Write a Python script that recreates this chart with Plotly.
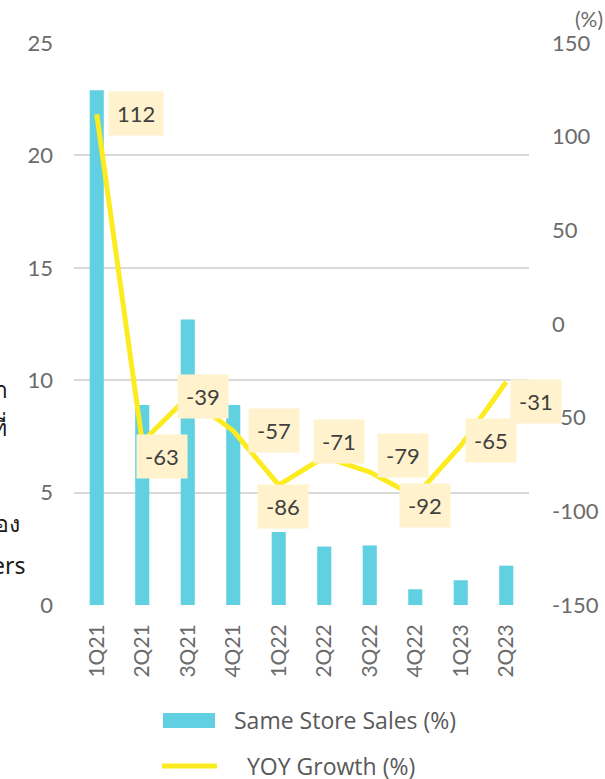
import plotly.graph_objects as go

quarters = ["1Q21", "2Q21", "3Q21", "4Q21", "1Q22", "2Q22", "3Q22", "4Q22", "1Q23", "2Q23"]
same_store_sales = [22.9, 8.9, 12.7, 8.9, 3.25, 2.6, 2.65, 0.7, 1.1, 1.75]
yoy_growth = [112, -63, -39, -57, -86, -71, -79, -92, -65, -31]
series_names = ["Same Store Sales (%)", "YOY Growth (%)"]
left_ticks = [0, 5, 10, 15, 20, 25]
right_ticks = [-150, -100, -50, 0, 50, 100, 150]
right_tick_labels = ["-150", "-100", "-50", "0", "50", "100", "150"]
edge_fragments = ["า", "ที่", "อง", "ers"]

# label offsets in pixels (style only)
label_dx = [39, 20, 15, 41, 4, 15, 33, 10, 30, 30]
label_dy = [1, -14, 1, 0, -21, 16, 16, -9, 5, -19]

FONT = "Lato"
GRAY = "#6B6B6B"
CYAN = "#61D1E1"
YELLOW = "#FCEB1E"

L, R, T, B = 74, 76, 43, 174
W, H = 605, 779
PW, PH = W - L - R, H - T - B


def px(x):
    return (x - L) / PW


def py(y):
    return (H - B - y) / PH


fig = go.Figure()
fig.add_trace(go.Bar(
    x=quarters, y=same_store_sales, name=series_names[0],
    marker=dict(color=CYAN, line=dict(width=0)), yaxis="y", showlegend=False,
))
fig.add_trace(go.Scatter(
    x=quarters, y=yoy_growth, name=series_names[1], mode="lines",
    line=dict(color=YELLOW, width=5), yaxis="y2", showlegend=False,
))

annotations = []
for q, v, dx, dy in zip(quarters, yoy_growth, label_dx, label_dy):
    annotations.append(dict(
        x=q, y=v, xref="x", yref="y2", text=str(v), showarrow=False,
        xshift=dx, yshift=dy, bgcolor="#FFF2CC", borderpad=8,
        font=dict(family=FONT, size=22, color="#404040"),
    ))

annotations.append(dict(
    x=px(605), y=py(18), xref="paper", yref="paper", text="(%)", showarrow=False,
    xanchor="right", yanchor="middle",
    font=dict(family=FONT, size=21, color=GRAY),
))

# cut-off text fragments at left edge
edge_pos = [(10, 389), (9, 427), (22, 523), (28, 565)]
for txt, (xr, yy) in zip(edge_fragments, edge_pos):
    annotations.append(dict(
        x=px(xr), y=py(yy), xref="paper", yref="paper",
        xanchor="right", yanchor="middle", text=txt,
        showarrow=False, font=dict(family="Noto Sans", size=23, color="#1A1A1A"),
    ))

# manual legend
shapes = [
    dict(type="rect", xref="paper", yref="paper", x0=px(163), x1=px(215), y0=py(728), y1=py(713),
         fillcolor=CYAN, line=dict(width=0)),
    dict(type="line", xref="paper", yref="paper", x0=px(162), x1=px(217), y0=py(766), y1=py(766),
         line=dict(color=YELLOW, width=5)),
]
annotations.append(dict(x=px(232), y=py(720), xref="paper", yref="paper", xanchor="left",
                        yanchor="middle", text=series_names[0], showarrow=False,
                        font=dict(family="Open Sans", size=23, color="#595959")))
annotations.append(dict(x=px(245), y=py(766), xref="paper", yref="paper", xanchor="left",
                        yanchor="middle", text=series_names[1], showarrow=False,
                        font=dict(family="Open Sans", size=23, color="#595959")))

fig.update_layout(
    width=W, height=H,
    margin=dict(l=L, r=R, t=T, b=B, autoexpand=False),
    paper_bgcolor="white", plot_bgcolor="white",
    bargap=0.69,
    showlegend=False,
    xaxis=dict(
        type="category", range=[-0.5, 9.5], tickangle=-90, showgrid=False, showline=False,
        tickfont=dict(family=FONT, size=21, color=GRAY), ticklabelstandoff=14,
        automargin=False,
    ),
    yaxis=dict(
        range=[0, 25], tickvals=left_ticks, showgrid=True, gridcolor="#D9D9D9", gridwidth=1.5,
        zeroline=False, showline=False,
        tickfont=dict(family=FONT, size=22, color=GRAY), ticklabelstandoff=20,
        automargin=False,
    ),
    yaxis2=dict(
        range=[-150, 150], tickvals=right_ticks, ticktext=right_tick_labels,
        overlaying="y", side="right", showgrid=False,
        zeroline=False, showline=False,
        tickfont=dict(family=FONT, size=22, color=GRAY), ticklabelstandoff=22,
        automargin=False,
    ),
    annotations=annotations,
    shapes=shapes,
)

fig.write_html("out.html", config={"displayModeBar": False},
               post_script="document.body.style.margin='0px';")
